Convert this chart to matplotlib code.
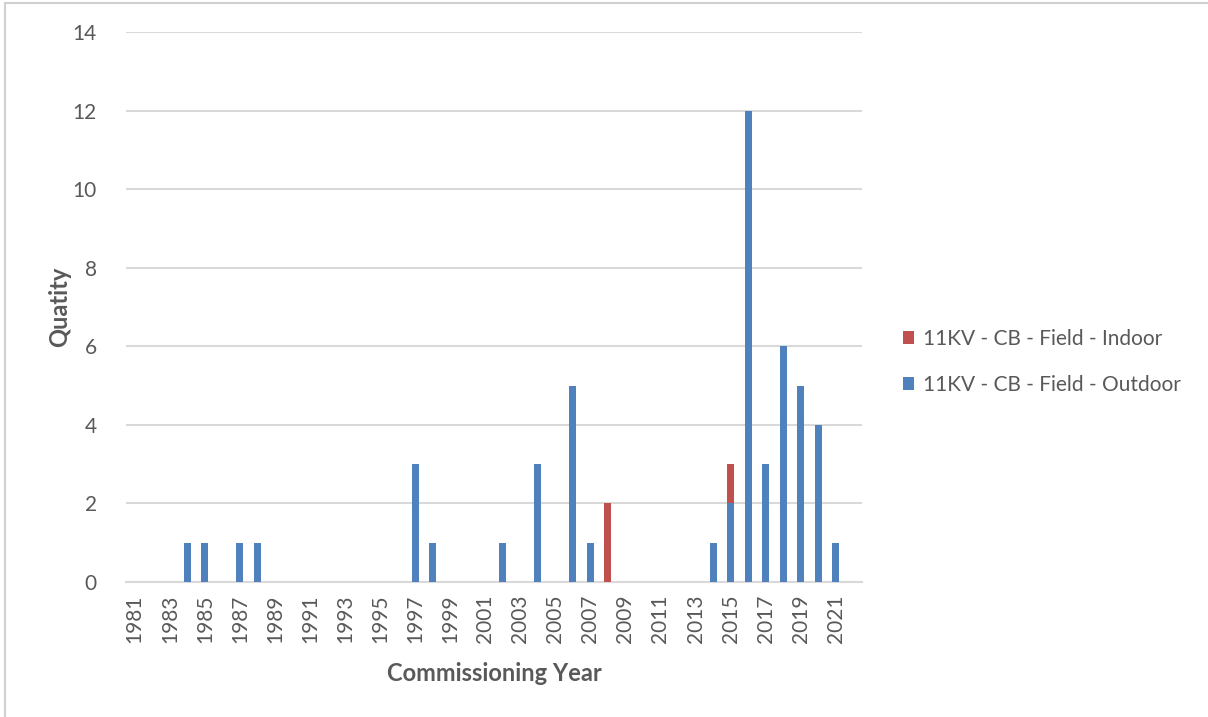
import matplotlib
matplotlib.use("Agg")
import matplotlib.pyplot as plt
from matplotlib.lines import Line2D
from matplotlib.patches import Patch
import numpy as np

plt.rcParams['font.family'] = ['Lato', 'DejaVu Sans']

# Commissioning years (category axis), 1981 through 2022
years = [str(y) for y in range(1981, 2023)]

# Counts per year
outdoor = [0, 0, 0, 1, 1, 0, 1, 1, 0, 0,   # 1981-1990
           0, 0, 0, 0, 0, 0, 3, 1, 0, 0,   # 1991-2000
           0, 1, 0, 3, 0, 5, 1, 0, 0, 0,   # 2001-2010
           0, 0, 0, 1, 2, 12, 3, 6, 5, 4,  # 2011-2020
           1, 0]                           # 2021-2022
indoor = [0, 0, 0, 0, 0, 0, 0, 0, 0, 0,
          0, 0, 0, 0, 0, 0, 0, 0, 0, 0,
          0, 0, 0, 0, 0, 0, 0, 2, 0, 0,
          0, 0, 0, 0, 1, 0, 0, 0, 0, 0,
          0, 0]

series_names = ["11KV - CB - Field - Indoor", "11KV - CB - Field - Outdoor"]
y_ticks = [0, 2, 4, 6, 8, 10, 12, 14]

blue = "#4F81BD"
red = "#C0504D"
text_col = "#595959"
grid_col = "#D9D9D9"

fig = plt.figure(figsize=(12.08, 7.17), dpi=100)
ax = fig.add_axes([126 / 1208, 1 - 582 / 717, (862 - 126) / 1208, (582 - 32) / 717])

x = np.arange(len(years))
ax.bar(x, outdoor, width=0.4, color=blue, zorder=3)
ax.bar(x, indoor, width=0.4, bottom=outdoor, color=red, zorder=3)

ax.set_xlim(-0.5, len(years) - 0.5)
ax.set_ylim(0, 14)
ax.set_yticks(y_ticks)
ax.set_yticklabels([str(t) for t in y_ticks], fontsize=15, color=text_col)
ax.set_xticks(x[::2])
ax.set_xticklabels(years[::2], rotation=90, fontsize=15, color=text_col)
ax.tick_params(axis='both', length=0)
ax.tick_params(axis='y', pad=21)
ax.tick_params(axis='x', pad=9)

ax.grid(axis='y', color=grid_col, linewidth=1.5, zorder=0)
for s in ['top', 'right', 'left']:
    ax.spines[s].set_visible(False)
ax.spines['bottom'].set_color(grid_col)
ax.spines['bottom'].set_linewidth(1.5)

ax.set_xlabel("Commissioning Year", fontsize=17, fontweight='bold', color=text_col, labelpad=14)
ax.set_ylabel("Quatity", fontsize=17, fontweight='bold', color=text_col, labelpad=1)

handles = [Patch(facecolor=red), Patch(facecolor=blue)]
fig.legend(handles, series_names, loc='center left', bbox_to_anchor=(884 / 1208, 1 - 362 / 717),
           frameon=False, fontsize=15, labelcolor=text_col, handlelength=0.55, handleheight=0.55,
           handletextpad=0.4, labelspacing=1.25)

# Thin frame along the top and left edges
fig.add_artist(Line2D([5 / 1208, 1.0], [1 - 3 / 717, 1 - 3 / 717], color="#D0D0D0", linewidth=1.5,
                      transform=fig.transFigure))
fig.add_artist(Line2D([5 / 1208, 5 / 1208], [0.0, 1 - 3 / 717], color="#D0D0D0", linewidth=1.5,
                      transform=fig.transFigure))

fig.savefig("out.png", dpi=100, facecolor="white")
